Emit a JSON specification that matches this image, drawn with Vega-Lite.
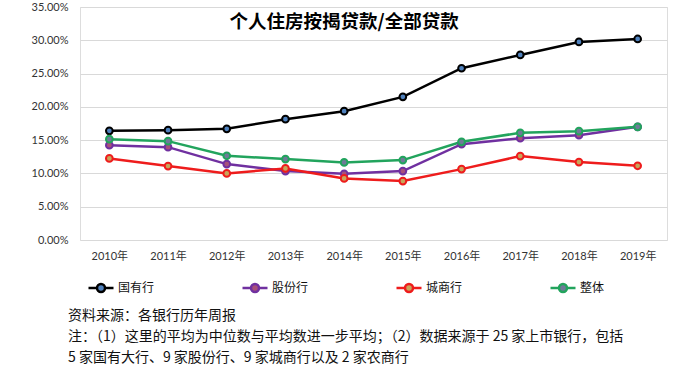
{
  "$schema": "https://vega.github.io/schema/vega-lite/v6.json",
  "width": 587,
  "height": 233,
  "autosize": "none",
  "padding": {"left": 80, "top": 7, "right": 25, "bottom": 136},
  "background": "white",
  "title": {
    "text": ["资料来源：各银行历年周报", "注：（1）这里的平均为中位数与平均数进一步平均；（2）数据来源于 25 家上市银行，包括", "5 家国有大行、9 家股份行、9 家城商行以及 2 家农商行"],
    "orient": "bottom",
    "anchor": "start",
    "frame": "group",
    "dx": -12,
    "offset": 12,
    "baseline": "top",
    "fontSize": 14,
    "fontWeight": "normal",
    "font": "Noto Sans CJK SC",
    "color": "#111111",
    "lineHeight": 21
  },
  "encoding": {
    "x": {
      "field": "year",
      "type": "nominal",
      "sort": null,
      "title": null,
      "scale": {"domain": ["2010年", "2011年", "2012年", "2013年", "2014年", "2015年", "2016年", "2017年", "2018年", "2019年"], "paddingInner": 0, "paddingOuter": 0},
      "axis": {
        "labelAngle": 0,
        "ticks": false,
        "domain": false,
        "grid": false,
        "labelPadding": 10,
        "labelFontSize": 11,
        "labelFont": "Lato, Noto Sans CJK SC",
        "labelColor": "#333333"
      }
    },
    "y": {
      "field": "value",
      "type": "quantitative",
      "title": null,
      "scale": {"domain": [0, 0.35], "nice": false, "zero": true},
      "axis": {
        "values": [0, 0.05, 0.1, 0.15, 0.2, 0.25, 0.3, 0.35],
        "format": ".2%",
        "ticks": false,
        "domain": false,
        "grid": true,
        "gridColor": "#d9d9d9",
        "gridWidth": 1,
        "labelPadding": 12,
        "labelFontSize": 11,
        "labelFont": "Lato, Noto Sans CJK SC",
        "labelColor": "#333333"
      }
    }
  },
  "layer": [
    {
      "data": {
        "values": [
          {"year": "2010年", "series": "国有行", "value": 0.164},
          {"year": "2011年", "series": "国有行", "value": 0.165},
          {"year": "2012年", "series": "国有行", "value": 0.167},
          {"year": "2013年", "series": "国有行", "value": 0.1815},
          {"year": "2014年", "series": "国有行", "value": 0.1935},
          {"year": "2015年", "series": "国有行", "value": 0.215},
          {"year": "2016年", "series": "国有行", "value": 0.258},
          {"year": "2017年", "series": "国有行", "value": 0.278},
          {"year": "2018年", "series": "国有行", "value": 0.2975},
          {"year": "2019年", "series": "国有行", "value": 0.302},
          {"year": "2010年", "series": "股份行", "value": 0.1425},
          {"year": "2011年", "series": "股份行", "value": 0.1395},
          {"year": "2012年", "series": "股份行", "value": 0.114},
          {"year": "2013年", "series": "股份行", "value": 0.1035},
          {"year": "2014年", "series": "股份行", "value": 0.0995},
          {"year": "2015年", "series": "股份行", "value": 0.1035},
          {"year": "2016年", "series": "股份行", "value": 0.144},
          {"year": "2017年", "series": "股份行", "value": 0.153},
          {"year": "2018年", "series": "股份行", "value": 0.1575},
          {"year": "2019年", "series": "股份行", "value": 0.170},
          {"year": "2010年", "series": "城商行", "value": 0.1225},
          {"year": "2011年", "series": "城商行", "value": 0.111},
          {"year": "2012年", "series": "城商行", "value": 0.100},
          {"year": "2013年", "series": "城商行", "value": 0.1075},
          {"year": "2014年", "series": "城商行", "value": 0.0925},
          {"year": "2015年", "series": "城商行", "value": 0.0885},
          {"year": "2016年", "series": "城商行", "value": 0.1065},
          {"year": "2017年", "series": "城商行", "value": 0.126},
          {"year": "2018年", "series": "城商行", "value": 0.117},
          {"year": "2019年", "series": "城商行", "value": 0.1115},
          {"year": "2010年", "series": "整体", "value": 0.1515},
          {"year": "2011年", "series": "整体", "value": 0.1485},
          {"year": "2012年", "series": "整体", "value": 0.1265},
          {"year": "2013年", "series": "整体", "value": 0.1215},
          {"year": "2014年", "series": "整体", "value": 0.1165},
          {"year": "2015年", "series": "整体", "value": 0.120},
          {"year": "2016年", "series": "整体", "value": 0.1475},
          {"year": "2017年", "series": "整体", "value": 0.161},
          {"year": "2018年", "series": "整体", "value": 0.1635},
          {"year": "2019年", "series": "整体", "value": 0.170}
        ]
      },
      "layer": [
        {
          "mark": {"type": "line", "strokeWidth": 2.5},
          "encoding": {
            "detail": {"field": "series"},
            "stroke": {
              "field": "series",
              "type": "nominal",
              "sort": ["国有行", "股份行", "城商行", "整体"],
              "scale": {"domain": ["国有行", "股份行", "城商行", "整体"], "range": ["#000000", "#7030a0", "#ee1c1c", "#22a45d"]},
              "legend": {
                "title": null,
                "orient": "none",
                "legendX": 7,
                "legendY": 267,
                "direction": "horizontal",
                "columns": 4,
                "gridAlign": "all",
                "columnPadding": 82,
                "padding": 0,
                "symbolType": "M-1,0H-0.32M0.32,0H1M0.32,0A0.32,0.32,0,1,1,-0.32,0A0.32,0.32,0,1,1,0.32,0Z",
                "symbolSize": 625,
                "symbolStrokeWidth": 2.5,
                "labelFontSize": 12,
                "labelFont": "Noto Sans CJK SC",
                "labelColor": "#111111",
                "labelOffset": 3
              }
            }
          }
        },
        {
          "mark": {"type": "circle", "size": 45, "strokeWidth": 2, "opacity": 1},
          "encoding": {
            "stroke": {"field": "series", "type": "nominal", "sort": ["国有行", "股份行", "城商行", "整体"]},
            "fill": {
              "field": "series",
              "type": "nominal",
              "sort": ["国有行", "股份行", "城商行", "整体"],
              "scale": {"domain": ["国有行", "股份行", "城商行", "整体"], "range": ["#4f81bd", "#a8507a", "#c8a55a", "#6f7a98"]}
            }
          }
        }
      ]
    },
    {
      "data": {"values": [{"label": "个人住房按揭贷款/全部贷款", "year": "2014年", "value": 0.3275}]},
      "mark": {"type": "text", "fontSize": 18.5, "fontWeight": "bold", "font": "Noto Sans CJK SC", "color": "#000000"},
      "encoding": {
        "text": {"field": "label"}
      }
    }
  ]
}
